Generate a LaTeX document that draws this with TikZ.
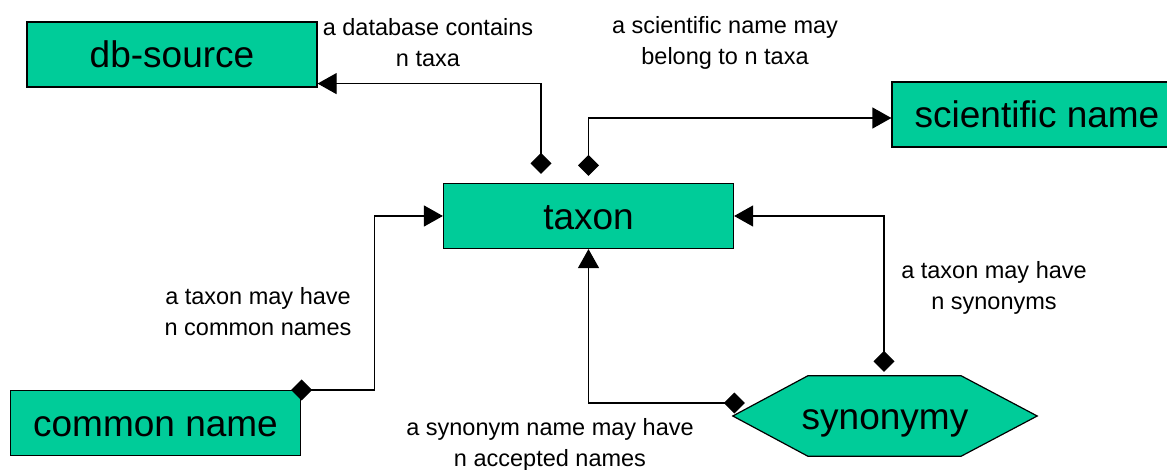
\documentclass[tikz,border=0pt]{standalone}
\usepackage{fontspec}
\setmainfont{Liberation Sans}
\usetikzlibrary{arrows.meta, backgrounds}
\definecolor{boxgreen}{RGB}{0,204,153}

\begin{document}
\begin{tikzpicture}[
  x=1pt, y=-1pt,
  entity/.style={
    rectangle, draw=black, line width=1.2pt, fill=boxgreen,
    minimum width=290pt, minimum height=65pt, inner sep=0pt,
    text height=26.5pt, text depth=0pt,
    font=\fontsize{37}{40}\selectfont
  },
  note/.style={
    align=center, inner sep=0pt,
    font=\fontsize{23.5}{31}\selectfont
  },
  link/.style={line width=1.2pt, draw=black},
  tri/.tip={Triangle[length=19pt, width=21pt]},
  dia/.tip={Diamond[length=21pt, width=21pt]}
]
\useasboundingbox (0,0) rectangle (1167,470);

\node[entity] (dbsrc) at (172,54.5) {db-source};
\node[entity] (taxon) at (588.5,216) {taxon};
\node[entity] (sciname) at (1037,114.5) {scientific name};
\node[entity] (comname) at (155.5,423) {common name};
\node[inner sep=0pt, minimum width=304pt, minimum height=80pt,
  text height=26.5pt, text depth=0pt,
  font=\fontsize{37}{40}\selectfont] (synonymy) at (885,416) {synonymy};

% hexagon behind the synonymy text
\begin{scope}[on background layer]
  \draw[link, fill=boxgreen] (synonymy.west)
    -- ([xshift=75pt]synonymy.north west) -- ([xshift=-76pt]synonymy.north east)
    -- (synonymy.east)
    -- ([xshift=-76pt]synonymy.south east) -- ([xshift=75pt]synonymy.south west)
    -- cycle;
\end{scope}

\draw[link, tri-dia] ([yshift=4pt]dbsrc.south east) -| ([xshift=-47.5pt,yshift=9pt]taxon.north);
\draw[link, dia-tri] ([yshift=7pt]taxon.north) |- ([yshift=-3.5pt]sciname.west);
\draw[link, tri-dia] (taxon.east) -| ([xshift=-1pt,yshift=4pt]synonymy.north);
\draw[link, tri-dia] (taxon.south) |- ([xshift=12pt,yshift=13pt]synonymy.west);
\draw[link, dia-tri] ([xshift=-10pt]comname.north east) -- ++(83,0) |- (taxon.west);

\node[note] (dblab) at (428,43) {a database contains\\n taxa};
\node[note] (scilab) at (725,43) {a scientific name may\\belong to n taxa};
\node[note] (comlab) at (258,312) {a taxon may have\\n common names};
\node[note] (synlab) at (994,288) {a taxon may have\\n synonyms};
\node[note] (acclab) at (550,445) {a synonym name may have\\n accepted names};
\end{tikzpicture}
\end{document}
